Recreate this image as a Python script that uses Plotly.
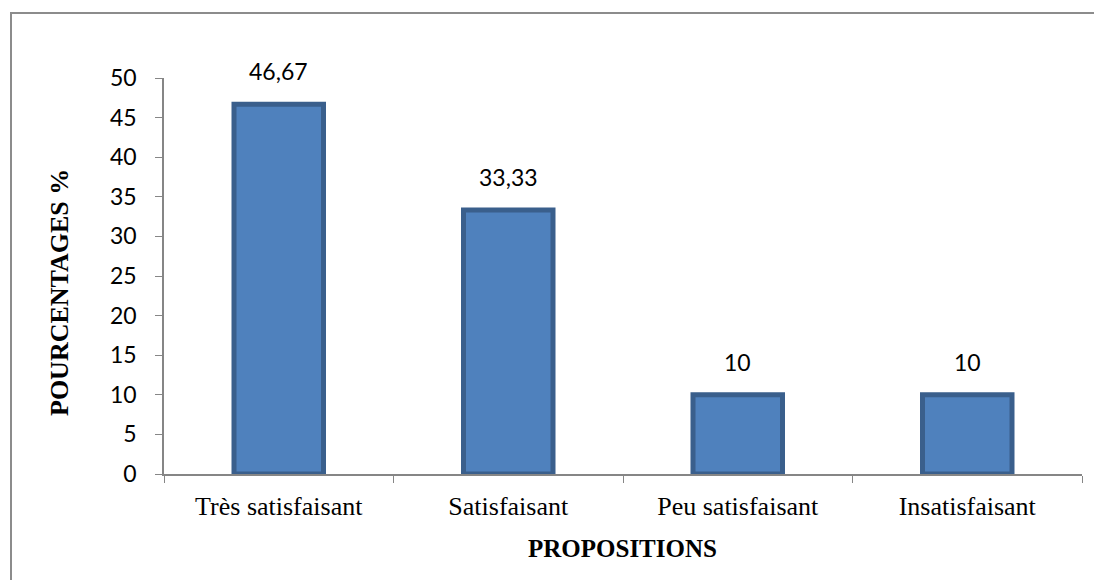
import plotly.graph_objects as go

categories = ["Très satisfaisant", "Satisfaisant", "Peu satisfaisant", "Insatisfaisant"]
values = [46.67, 33.33, 10, 10]
value_labels = ["46,67", "33,33", "10", "10"]
y_ticks = [0, 5, 10, 15, 20, 25, 30, 35, 40, 45, 50]

W, H = 1094, 580
ml, mr, mt, mb = 164, 12, 78, 106
pw = W - ml - mr
ph = H - mt - mb

SANS = "Lato, Open Sans, sans-serif"
SERIF = "Liberation Serif, Times New Roman, serif"

fig = go.Figure()
fig.add_trace(go.Bar(
    x=categories, y=values,
    marker=dict(color="#4F81BD", line=dict(color="#3A5F8C", width=5)),
    hoverinfo="skip",
))

for c, v, t in zip(categories, values, value_labels):
    fig.add_annotation(x=c, y=v, text=t, showarrow=False, yanchor="bottom",
                       yshift=17, font=dict(family=SANS, size=23, color="#000"))

# axis titles
fig.add_annotation(xref="paper", yref="paper", x=(59 - ml) / pw, y=(H - mb - 293) / ph,
                   xanchor="center", yanchor="middle",
                   text="<b>POURCENTAGES %</b>", textangle=-90, showarrow=False,
                   font=dict(family=SERIF, size=26, color="#000"))
fig.add_annotation(xref="paper", yref="paper", x=(622 - ml) / pw, y=(H - mb - 548) / ph,
                   xanchor="center", yanchor="middle",
                   text="<b>PROPOSITIONS</b>", showarrow=False,
                   font=dict(family=SERIF, size=25, color="#000"))

# outer border
fig.add_shape(type="rect", xref="paper", yref="paper",
              x0=(11 - ml) / pw, x1=(W + 20 - ml) / pw,
              y0=(H - mb - (H + 20)) / ph, y1=(H - mb - 13) / ph,
              line=dict(color="#8C8C8C", width=2), fillcolor="rgba(0,0,0,0)", layer="below")

fig.update_layout(
    width=W, height=H,
    margin=dict(l=ml, r=mr, t=mt, b=mb),
    paper_bgcolor="white", plot_bgcolor="white",
    bargap=0.61, showlegend=False,
    xaxis=dict(showline=True, linecolor="#868686", linewidth=1.5, ticks="outside",
               tickson="boundaries", ticklen=7, tickcolor="#868686", showgrid=False,
               tickfont=dict(family=SERIF, size=26, color="#000"),
               ticklabelstandoff=8, fixedrange=True),
    yaxis=dict(range=[0, 50], tickvals=y_ticks, showline=True, linecolor="#868686", linewidth=1.5,
               ticks="outside", ticklen=7, tickcolor="#868686", showgrid=False, zeroline=False,
               tickfont=dict(family=SANS, size=23, color="#000"),
               ticklabelstandoff=14, fixedrange=True),
)

fig.write_html("out.html")
